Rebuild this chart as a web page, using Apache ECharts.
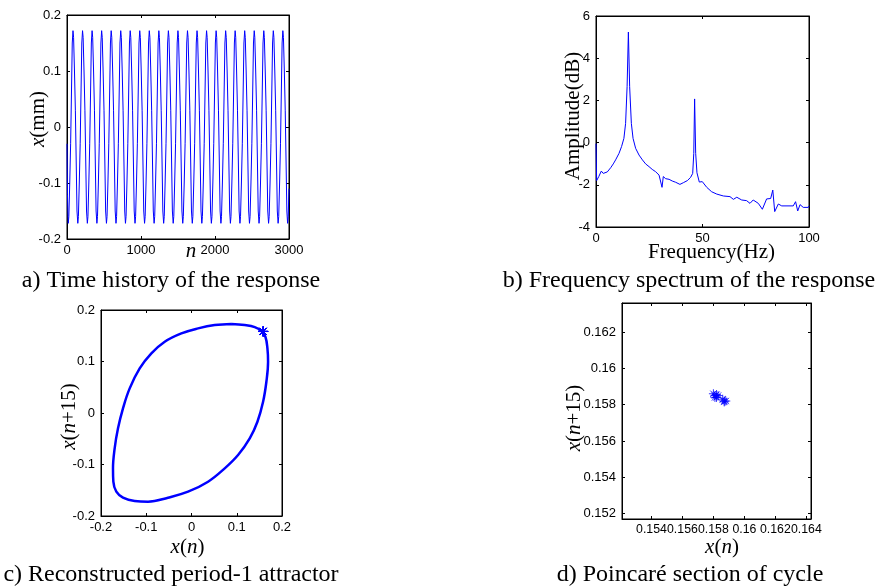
<!DOCTYPE html>
<html><head><meta charset="utf-8">
<script src="https://cdn.jsdelivr.net/npm/echarts@6/dist/echarts.min.js"></script>
<style>html,body{margin:0;padding:0;background:#fff}#c{width:882px;height:588px}</style>
</head><body><div id="c"></div>
<script>
// ---------- a) time history: vertices [n, x(mm)] ----------
const timeSeries = [
[0,-0.03],[6,-0.12],
[17,-0.172],[25,-0.16],[37,-0.10],[49,-0.03],[59,0.05],[71,0.15],[81,0.172],[89,0.16],[101,0.10],[113,0.03],[123,-0.05],[135,-0.15],
[146,-0.172],[154,-0.16],[166,-0.10],[178,-0.03],[188,0.05],[200,0.15],[210,0.172],[218,0.16],[230,0.10],[242,0.03],[252,-0.05],[264,-0.15],
[275,-0.172],[283,-0.16],[295,-0.10],[307,-0.03],[317,0.05],[329,0.15],[339,0.172],[347,0.16],[359,0.10],[371,0.03],[381,-0.05],[393,-0.15],
[404,-0.172],[412,-0.16],[424,-0.10],[436,-0.03],[446,0.05],[458,0.15],[468,0.172],[476,0.16],[488,0.10],[500,0.03],[510,-0.05],[522,-0.15],
[533,-0.172],[541,-0.16],[553,-0.10],[565,-0.03],[575,0.05],[587,0.15],[597,0.172],[605,0.16],[617,0.10],[629,0.03],[639,-0.05],[651,-0.15],
[662,-0.172],[670,-0.16],[682,-0.10],[694,-0.03],[704,0.05],[716,0.15],[726,0.172],[734,0.16],[746,0.10],[758,0.03],[768,-0.05],[780,-0.15],
[790,-0.172],[798,-0.16],[810,-0.10],[822,-0.03],[832,0.05],[844,0.15],[854,0.172],[862,0.16],[874,0.10],[886,0.03],[896,-0.05],[908,-0.15],
[919,-0.172],[927,-0.16],[939,-0.10],[951,-0.03],[961,0.05],[973,0.15],[983,0.172],[991,0.16],[1003,0.10],[1015,0.03],[1025,-0.05],[1037,-0.15],
[1048,-0.172],[1056,-0.16],[1068,-0.10],[1080,-0.03],[1090,0.05],[1102,0.15],[1112,0.172],[1120,0.16],[1132,0.10],[1144,0.03],[1154,-0.05],[1166,-0.15],
[1177,-0.172],[1185,-0.16],[1197,-0.10],[1209,-0.03],[1219,0.05],[1231,0.15],[1241,0.172],[1249,0.16],[1261,0.10],[1273,0.03],[1283,-0.05],[1295,-0.15],
[1306,-0.172],[1314,-0.16],[1326,-0.10],[1338,-0.03],[1348,0.05],[1360,0.15],[1370,0.172],[1378,0.16],[1390,0.10],[1402,0.03],[1412,-0.05],[1424,-0.15],
[1435,-0.172],[1443,-0.16],[1455,-0.10],[1467,-0.03],[1477,0.05],[1489,0.15],[1499,0.172],[1507,0.16],[1519,0.10],[1531,0.03],[1541,-0.05],[1553,-0.15],
[1564,-0.172],[1572,-0.16],[1584,-0.10],[1596,-0.03],[1606,0.05],[1618,0.15],[1628,0.172],[1636,0.16],[1648,0.10],[1660,0.03],[1670,-0.05],[1682,-0.15],
[1693,-0.172],[1701,-0.16],[1713,-0.10],[1725,-0.03],[1735,0.05],[1747,0.15],[1757,0.172],[1765,0.16],[1777,0.10],[1789,0.03],[1799,-0.05],[1811,-0.15],
[1822,-0.172],[1830,-0.16],[1842,-0.10],[1854,-0.03],[1864,0.05],[1876,0.15],[1886,0.172],[1894,0.16],[1906,0.10],[1918,0.03],[1928,-0.05],[1940,-0.15],
[1951,-0.172],[1959,-0.16],[1971,-0.10],[1983,-0.03],[1993,0.05],[2005,0.15],[2015,0.172],[2023,0.16],[2035,0.10],[2047,0.03],[2057,-0.05],[2069,-0.15],
[2080,-0.172],[2088,-0.16],[2100,-0.10],[2112,-0.03],[2122,0.05],[2134,0.15],[2144,0.172],[2152,0.16],[2164,0.10],[2176,0.03],[2186,-0.05],[2198,-0.15],
[2208,-0.172],[2216,-0.16],[2228,-0.10],[2240,-0.03],[2250,0.05],[2262,0.15],[2272,0.172],[2280,0.16],[2292,0.10],[2304,0.03],[2314,-0.05],[2326,-0.15],
[2337,-0.172],[2345,-0.16],[2357,-0.10],[2369,-0.03],[2379,0.05],[2391,0.15],[2401,0.172],[2409,0.16],[2421,0.10],[2433,0.03],[2443,-0.05],[2455,-0.15],
[2466,-0.172],[2474,-0.16],[2486,-0.10],[2498,-0.03],[2508,0.05],[2520,0.15],[2530,0.172],[2538,0.16],[2550,0.10],[2562,0.03],[2572,-0.05],[2584,-0.15],
[2595,-0.172],[2603,-0.16],[2615,-0.10],[2627,-0.03],[2637,0.05],[2649,0.15],[2659,0.172],[2667,0.16],[2679,0.10],[2691,0.03],[2701,-0.05],[2713,-0.15],
[2724,-0.172],[2732,-0.16],[2744,-0.10],[2756,-0.03],[2766,0.05],[2778,0.15],[2788,0.172],[2796,0.16],[2808,0.10],[2820,0.03],[2830,-0.05],[2842,-0.15],
[2853,-0.172],[2861,-0.16],[2873,-0.10],[2885,-0.03],[2895,0.05],[2907,0.15],[2917,0.172],[2925,0.16],[2937,0.10],[2949,0.03],[2959,-0.05],[2971,-0.15],
[2981,-0.172],[2989,-0.16],[3000,-0.11]
];

// ---------- b) spectrum ----------
const specF = [0,0.3,1.3,2.5,3.4,5.3,6.9,8.1,9.2,10.8,12.0,13.1,13.9,14.6,15.2,15.8,16.6,17.4,18.6,20.2,21.8,23.3,24.9,26.4,28.0,29.6,30.4,31.0,31.6,32.7,34.3,35.8,37.4,39.4,41.0,42.9,44.4,45.4,45.9,46.3,46.8,47.4,48.5,49.9,50.4,52.0,54.3,56.7,59.8,62.9,64.5,66.1,68.4,70.7,72.3,73.8,76.2,78.1,80.1,82.0,83.0,83.9,85.6,87.2,92.6,93.7,94.7,95.8,97.3,99.7,100];
const specA = [-0.05,-1.80,-1.61,-1.35,-1.46,-1.39,-1.19,-1.01,-0.82,-0.51,-0.19,0.20,0.91,2.65,5.24,2.65,0.91,0.20,-0.27,-0.59,-0.82,-1.01,-1.14,-1.27,-1.38,-1.54,-1.61,-2.12,-1.61,-1.71,-1.74,-1.82,-1.88,-1.98,-1.90,-1.80,-1.65,-1.46,-0.51,2.07,-0.51,-1.43,-1.87,-1.85,-1.85,-2.12,-2.33,-2.44,-2.53,-2.56,-2.69,-2.59,-2.72,-2.75,-2.88,-2.72,-2.88,-3.16,-2.67,-2.65,-2.25,-3.27,-2.91,-3.0,-3.0,-2.80,-3.24,-2.94,-3.07,-3.07,-3.0];

// ---------- c) reconstructed attractor ----------
const loopX = [0.0882,0.1176,0.1398,0.1545,0.1633,0.1678,0.1692,0.1655,0.1582,0.1457,0.1287,0.1029,0.0734,0.0366,-0.0076,-0.0519,-0.0961,-0.1256,-0.1514,-0.1661,-0.1727,-0.1735,-0.1698,-0.1624,-0.1514,-0.1366,-0.1145,-0.0887,-0.0592,-0.0224,0.0145,0.0513,0.0882];
const loopY = [0.1727,0.1707,0.1668,0.1591,0.1481,0.1254,0.0996,0.0607,0.0219,-0.0169,-0.0492,-0.0816,-0.1075,-0.1334,-0.1528,-0.1644,-0.1722,-0.1709,-0.1644,-0.1528,-0.1334,-0.1075,-0.0687,-0.0298,0.0090,0.0478,0.0866,0.1157,0.1384,0.1546,0.1643,0.1707,0.1727];

// ---------- d) Poincaré section ----------
const poincareX = [0.1580,0.1581,0.1582,0.1581,0.1583,0.1582,0.1586,0.1587,0.1588,0.1587];
const poincareY = [0.1586,0.1585,0.15855,0.1584,0.1585,0.1584,0.1583,0.1582,0.1582,0.15815];
const ticksD = [0.154,0.156,0.158,0.16,0.162,0.164];
const ticksDy = [0.152,0.154,0.156,0.158,0.16,0.162];

const captions = ['a) Time history of the response','b) Frequency spectrum of the response','c) Reconstructed period-1 attractor','d) Poincaré section of cycle'];

// ---------- styling ----------
const SANS = '"Liberation Sans", Arial, sans-serif';
const SERIF = '"Liberation Serif", "Times New Roman", serif';
const BLUE = '#0000ff';
const STAR = 'path://M0,5L10,5M5,0L5,10M1.5,1.5L8.5,8.5M1.5,8.5L8.5,1.5';

function nameStyle(pad){
  return {fontFamily:SERIF,fontSize:21,color:'#000',padding:pad,
    rich:{i:{fontFamily:SERIF,fontSize:21,fontStyle:'italic',color:'#000'}}};
}
function fmt(v){ return String(Math.round(v*1e6)/1e6); }
function ax(gridIndex,pos,c,main){
  const isX = pos==='bottom'||pos==='top';
  return {
    type:'value',gridIndex:gridIndex,position:pos,min:c.min,max:c.max,interval:c.interval,
    axisLine:{show:true,onZero:false,lineStyle:{color:'#000',width:1}},
    axisTick:{show:true,inside:true,length:3,lineStyle:{color:'#000',width:1},customValues:c.ticks},
    axisLabel:{show:main,margin:isX?5:6,fontFamily:SANS,fontSize:c.fs||13,color:'#000',customValues:c.ticks,formatter:fmt,
      showMinLabel:true,showMaxLabel:true,hideOverlap:false,interval:0},
    splitLine:{show:false},
    name:main?c.name:'',nameLocation:'middle',nameGap:c.gap,nameTextStyle:nameStyle(c.pad),
    nameMoveOverlap:false
  };
}

const A_X={min:0,max:3000,interval:1000,name:'{i|n}',gap:2,pad:[0,0,0,26]};
const A_Y={min:-0.2,max:0.2,interval:0.1,name:'{i|x}(mm)',gap:18,pad:[0,0,0,16]};
const B_X={min:0,max:100,interval:50,name:'Frequency(Hz)',gap:15,pad:[0,0,0,18]};
const B_Y={min:-4,max:6,interval:2,name:'Amplitude(dB)',gap:12,pad:[0,0,0,11]};
const C_X={min:-0.2,max:0.2,interval:0.1,name:'{i|x}({i|n})',gap:21,pad:[0,8,0,0]};
const C_Y={min:-0.2,max:0.2,interval:0.1,name:'{i|x}({i|n}+15)',gap:21,pad:[0,7,0,0]};
const D_X={min:0.1521,max:0.1643,ticks:ticksD,fs:12.3,name:'{i|x}({i|n})',gap:18,pad:[0,0,0,11]};
const D_Y={min:0.1517,max:0.1636,ticks:ticksDy,name:'{i|x}({i|n}+15)',gap:37,pad:[0,14,0,0]};

const grids=[
  {left:67,top:15,width:222,height:224},
  {left:596,top:16,width:213,height:211},
  {left:101,top:310,width:181,height:206},
  {left:622,top:303,width:189,height:216}
].map(g=>Object.assign(g,{show:true,borderColor:'#000',borderWidth:1,backgroundColor:'transparent',containLabel:false}));

const xs=[A_X,B_X,C_X,D_X], ys=[A_Y,B_Y,C_Y,D_Y];
const xAxis=[], yAxis=[];
xs.forEach((c,i)=>{xAxis.push(ax(i,'bottom',c,true));});
xs.forEach((c,i)=>{xAxis.push(ax(i,'top',c,false));});
ys.forEach((c,i)=>{yAxis.push(ax(i,'left',c,true));});
ys.forEach((c,i)=>{yAxis.push(ax(i,'right',c,false));});

const capPos=[[171,281],[689,281],[171,575],[690,575]];
const graphic=captions.map((t,i)=>({type:'text',x:capPos[i][0],y:capPos[i][1],silent:true,
  style:{text:t,fontFamily:SERIF,fontSize:24,fill:'#000',align:'center',verticalAlign:'middle'}}));

const option={
  animation:false,
  backgroundColor:'#fff',
  grid:grids,
  xAxis:xAxis,
  yAxis:yAxis,
  graphic:graphic,
  series:[
    {type:'line',xAxisIndex:0,yAxisIndex:0,data:timeSeries,showSymbol:false,symbol:'none',
      lineStyle:{color:BLUE,width:1},silent:true},
    {type:'line',xAxisIndex:1,yAxisIndex:1,data:specF.map((f,i)=>[f,specA[i]]),showSymbol:false,symbol:'none',
      lineStyle:{color:BLUE,width:1},silent:true},
    {type:'line',xAxisIndex:2,yAxisIndex:2,data:loopX.map((x,i)=>[x,loopY[i]]),showSymbol:false,symbol:'none',smooth:0.4,
      lineStyle:{color:BLUE,width:2.5},silent:true},
    {type:'scatter',xAxisIndex:2,yAxisIndex:2,data:poincareX.map((x,i)=>[x,poincareY[i]]),symbol:STAR,symbolSize:10,
      itemStyle:{color:'rgba(0,0,0,0)',borderColor:BLUE,borderWidth:1},silent:true},
    {type:'scatter',xAxisIndex:3,yAxisIndex:3,data:poincareX.map((x,i)=>[x,poincareY[i]]),symbol:STAR,symbolSize:9,
      itemStyle:{color:'rgba(0,0,0,0)',borderColor:BLUE,borderWidth:1},silent:true}
  ]
};
const chart=echarts.init(document.getElementById('c'),null,{renderer:'canvas'});
chart.setOption(option);
</script></body></html>
